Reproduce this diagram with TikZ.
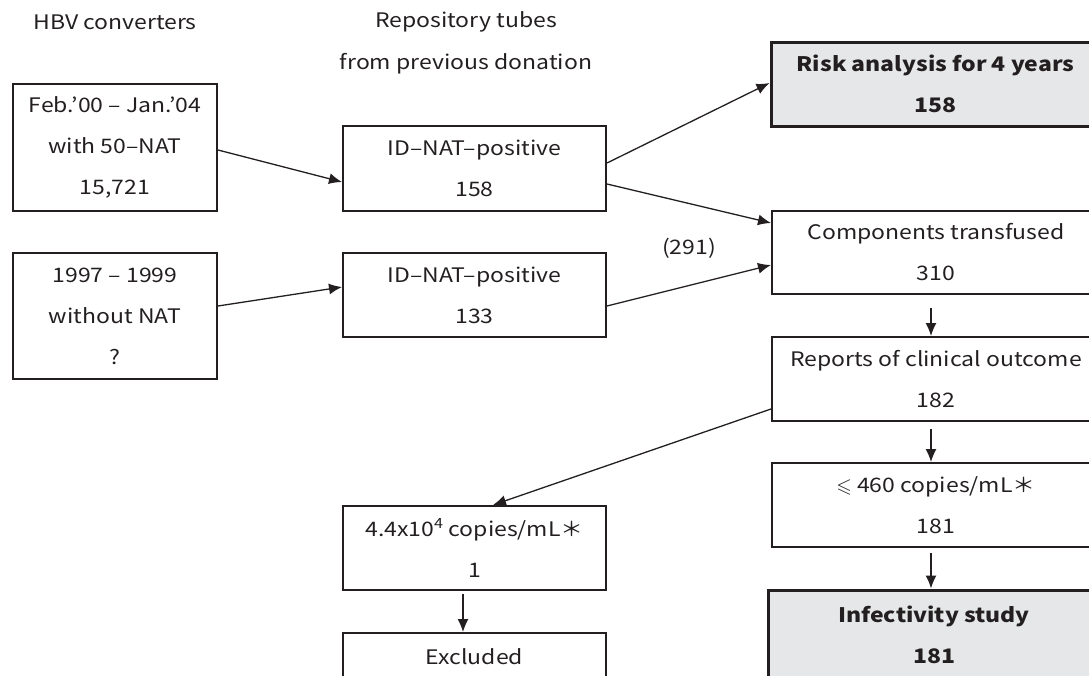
\documentclass[tikz,border=0pt]{standalone}
\usepackage{fontspec}
\usepackage{amssymb}
\setmainfont{Noto Sans CJK JP}[FakeStretch=1.15]
\usetikzlibrary{arrows.meta,calc}
\definecolor{ink}{HTML}{231F20}
\definecolor{boxgray}{HTML}{E6E7E8}
\begin{document}
\begin{tikzpicture}[x=1pt,y=-1pt,
  txt/.style={text=ink, inner sep=0pt, font=\fontsize{20}{41}\selectfont},
  box/.style={txt, draw=ink, line width=2pt, align=center},
  gbox/.style={box, fill=boxgray, line width=3pt, font=\fontsize{20}{41}\selectfont\bfseries},
  arr/.style={draw=ink, line width=1.3pt, -{Latex[length=13pt,width=11pt]}}]
\useasboundingbox (0,0) rectangle (1089,675);
\clip (0,0) rectangle (1089,675);
% headers
\node[txt] (h1) at (115,22) {HBV converters};
\node[txt] (h2) at (466,22) {Repository tubes};
\node[txt] (h3) at (466,64) {from previous donation};
% left column
\node[box, minimum width=204pt, minimum height=127pt] (A) at (115,147.5) {Feb.’00 – Jan.’04\\with 50–NAT\\15,721};
\node[box, minimum width=204pt, minimum height=126pt] (C) at (115,316) {1997 – 1999\\without NAT\\?};
% middle column
\node[box, minimum width=263pt, minimum height=85pt] (B) at (474.5,168.5) {ID–NAT–positive\\158};
\node[box, minimum width=263pt, minimum height=84pt] (D) at (474.5,295) {ID–NAT–positive\\133};
\node[box, minimum width=263pt, minimum height=84pt] (F) at (474.5,548) {4.4x10\textsuperscript{4} copies/mL＊\\1};
\node[box, minimum width=263pt, minimum height=48pt] (E) at (474.5,657) {Excluded};
% right column
\node[gbox, minimum width=329pt, minimum height=84pt] (R) at (935.5,84) {Risk analysis for 4 years\\158};
\node[box, minimum width=328pt, minimum height=83pt] (T) at (936,252.5) {Components transfused\\310};
\node[box, minimum width=328pt, minimum height=84pt] (P) at (936,379) {Reports of clinical outcome\\182};
\node[box, minimum width=328pt, minimum height=84pt] (L) at (936,505) {$\leqslant$ 460 copies/mL＊\\181};
\node[gbox, minimum width=332pt, minimum height=90pt] (I) at (934,635) {Infectivity study\\181};
\node[txt] (n291) at (689,248) {(291)};
% connectors
\draw[arr] ([yshift=-2.5pt]A.east) -- ([yshift=-13.5pt]B.west);
\draw[arr] ([yshift=10pt]C.east) -- ([yshift=8pt]D.west);
\draw[arr] ([yshift=5.5pt]B.east) -- ([yshift=1pt]R.west);
\draw[arr] ([yshift=-15.5pt]B.east) -- ([yshift=29.5pt]T.west);
\draw[arr] ([yshift=-11pt]D.east) -- ([yshift=-12.5pt]T.west);
\draw[arr] ([xshift=-5pt,yshift=-13pt]T.south) -- ([xshift=-5pt]P.north);
\draw[arr] ([xshift=-5pt,yshift=-7pt]P.south) -- ([xshift=-5pt]L.north);
\draw[arr] ([xshift=-5pt,yshift=-5pt]L.south) -- ([xshift=-3pt]I.north);
\draw[arr] ([yshift=-30pt]P.west) -- ([xshift=18.5pt]F.north);
\draw[arr] ([xshift=-11.5pt,yshift=-3pt]F.south) -- ([xshift=-11.5pt]E.north);
\end{tikzpicture}
\end{document}
